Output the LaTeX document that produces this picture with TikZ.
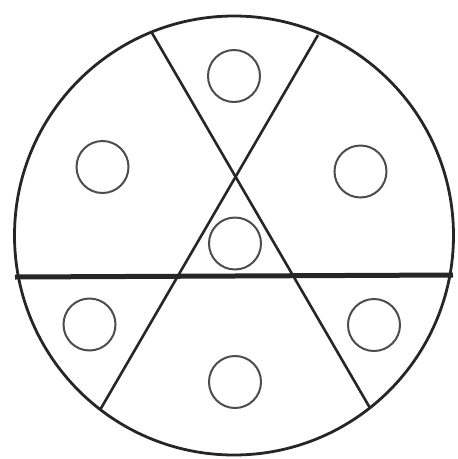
\documentclass[tikz,border=0pt]{standalone}
\begin{document}
\begin{tikzpicture}[x=1pt,y=-1pt,
  outer/.style={draw=black!85,line width=2.8pt},
  divider/.style={draw=black!85,line width=2.6pt},
  bar/.style={draw=black!85,line width=5pt},
  hole/.style={circle,draw=black!70,line width=2pt,minimum size=52pt,inner sep=0pt}]
\useasboundingbox (0,0) rectangle (458,459);
\coordinate (c) at (234,235.5);
\draw[outer] (c) circle (219.5);
\coordinate (a1) at (152,33);
\coordinate (a2) at (370,408);
\coordinate (b1) at (318,35);
\coordinate (b2) at (100,410);
\coordinate (h1) at (15,277);
\coordinate (h2) at (453,275);
\draw[divider] (a1) -- (a2);
\draw[divider] (b1) -- (b2);
\draw[bar] (h1) -- (h2);
\node[hole] (n1) at (234,76) {};
\node[hole] (n2) at (102.5,167) {};
\node[hole] (n3) at (360.5,171.5) {};
\node[hole] (n4) at (235,243.5) {};
\node[hole] (n5) at (89.5,324.5) {};
\node[hole] (n6) at (374,325) {};
\node[hole] (n7) at (235,382) {};
\end{tikzpicture}
\end{document}
